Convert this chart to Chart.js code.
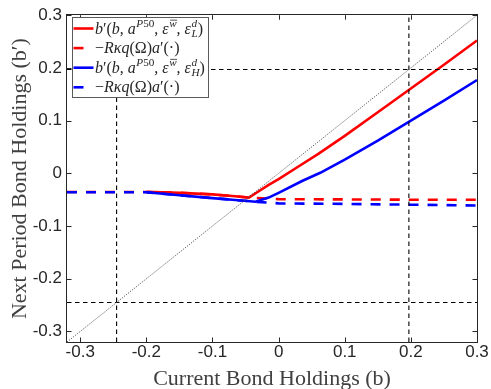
<!DOCTYPE html>
<html><head><meta charset="utf-8">
<script src="https://cdn.jsdelivr.net/npm/chart.js@4/dist/chart.umd.min.js"></script>
<style>html,body{margin:0;padding:0;background:#fff}#wrap{width:491px;height:389px}</style>
</head><body><div id="wrap"><canvas id="c" width="491" height="389"></canvas></div>
<script>
// ---------- data ----------
const tickValues = [-0.3, -0.2, -0.1, 0, 0.1, 0.2, 0.3];
const axisMin = -0.32, axisMax = 0.3;
const xTitle = "Current Bond Holdings (b)";
const yTitle = "Next Period Bond Holdings (b\u2032)";
const seriesLabels = [
  "b\u2032(b, a^{P50}, \u03b5^{w\u0304}, \u03b5^{d}_{L})",
  "\u2212R\u03baq(\u03a9)a\u2032(\u00b7)",
  "b\u2032(b, a^{P50}, \u03b5^{w\u0304}, \u03b5^{d}_{H})",
  "\u2212R\u03baq(\u03a9)a\u2032(\u00b7)"
];
// b' policy, low state (red solid)
const bL      = [-0.2, -0.15, -0.1, -0.07, -0.045, -0.03, -0.015, 0, 0.03, 0.06, 0.1, 0.15, 0.2, 0.25, 0.3];
const policyL = [-0.035, -0.037, -0.040, -0.043, -0.046, -0.034, -0.022, -0.011, 0.013, 0.037, 0.071, 0.116, 0.161, 0.206, 0.252];
// -R kappa q a' , low state (red dashed)
const bLd     = [-0.32, -0.2, -0.15, -0.1, -0.07, -0.045, 0, 0.1, 0.2, 0.3];
const boundL  = [-0.0355, -0.0355, -0.037, -0.040, -0.043, -0.046, -0.049, -0.0495, -0.050, -0.050];
// b' policy, high state (blue solid)
const bH      = [-0.2, -0.15, -0.1, -0.07, -0.035, -0.015, 0, 0.0355, 0.063, 0.1, 0.15, 0.2, 0.25, 0.3];
const policyH = [-0.036, -0.0415, -0.047, -0.050, -0.054, -0.046, -0.037, -0.0145, 0.001, 0.026, 0.062, 0.100, 0.138, 0.177];
// -R kappa q a' , high state (blue dashed)
const bHd     = [-0.32, -0.2, -0.15, -0.1, -0.07, -0.035, 0, 0.1, 0.2, 0.3];
const boundH  = [-0.036, -0.036, -0.0415, -0.047, -0.050, -0.054, -0.057, -0.058, -0.0595, -0.061];
// 45-degree line and its crossing points
const diagX = [-0.32, 0.3];
const crossLow = -0.245, crossHigh = 0.197;

// ---------- helpers ----------
const pts = (xs, ys) => xs.map((x, i) => ({x: x, y: ys[i]}));
const RED = '#ff0000', BLUE = '#0000ff';
const fmt = v => { const r = Math.round(v * 10) / 10; return r === 0 ? '0' : String(r); };
const DASH = [10, 9];
const REFDASH = [4.5, 3.5];

const line = (data, color, width, dash, order) => ({
  data, borderColor: color, backgroundColor: color, borderWidth: width,
  borderDash: dash || [], pointRadius: 0, pointHoverRadius: 0, showLine: true,
  tension: 0, fill: false, order: order, borderCapStyle: 'butt'
});

const datasets = [
  Object.assign(line(pts(diagX, diagX), '#505050', 0.9, [1.3, 1.3], 0), {label: '45'}),
  Object.assign(line(pts([crossLow, crossLow], [axisMin, axisMax]), '#000', 1.1, REFDASH, 0), {label: 'v1'}),
  Object.assign(line(pts([crossHigh, crossHigh], [axisMin, axisMax]), '#000', 1.1, REFDASH, 0), {label: 'v2'}),
  Object.assign(line(pts([axisMin, axisMax], [crossLow, crossLow]), '#000', 1.1, REFDASH, 0), {label: 'h1'}),
  Object.assign(line(pts([axisMin, axisMax], [crossHigh, crossHigh]), '#000', 1.1, REFDASH, 0), {label: 'h2'}),
  Object.assign(line(pts(bHd, boundH), BLUE, 2.6, DASH, 1), {label: seriesLabels[3]}),
  Object.assign(line(pts(bH, policyH), BLUE, 2.6, null, 2), {label: seriesLabels[2]}),
  Object.assign(line(pts(bLd, boundL), RED, 2.6, DASH, 3), {label: seriesLabels[1]}),
  Object.assign(line(pts(bL, policyL), RED, 2.6, null, 4), {label: seriesLabels[0]})
];

// ---------- rich text (simple LaTeX-like) ----------
function parseRich(s) {
  const items = [];
  let i = 0;
  const readGroup = () => {
    if (s[i] === '{') { const j = s.indexOf('}', i); const g = s.slice(i + 1, j); i = j + 1; return g; }
    return s[i++];
  };
  while (i < s.length) {
    const ch = s[i];
    if (ch === '^' || ch === '_') {
      i++;
      const g = readGroup();
      const last = items[items.length - 1];
      if (ch === '^') last.sup = g; else last.sub = g;
      continue;
    }
    const it = {t: ch};
    i++;
    if (s[i] === '\u0304') { it.t += '\u0304'; i++; }
    items.push(it);
  }
  return items;
}
const isItalic = c => /[A-Za-z\u03b1-\u03c9]/.test(c);
function drawChars(ctx, str, x, y, size) {
  let i = 0;
  while (i < str.length) {
    const c = str[i]; i++;
    let bar = false;
    if (str[i] === '\u0304') { bar = true; i++; }
    ctx.font = (isItalic(c) ? 'italic ' : '') + size + 'px "Liberation Serif"';
    ctx.fillText(c, x, y);
    const w = ctx.measureText(c).width;
    if (bar) {
      ctx.save(); ctx.lineWidth = 0.8; ctx.strokeStyle = ctx.fillStyle;
      ctx.beginPath(); ctx.moveTo(x + 1, y - size * 0.62); ctx.lineTo(x + w + 0.5, y - size * 0.62); ctx.stroke(); ctx.restore();
    }
    x += w;
  }
  return x;
}
function drawRich(ctx, str, x, y, size) {
  const items = parseRich(str);
  const ss = size * 0.7;
  for (const it of items) {
    x = drawChars(ctx, it.t, x, y, size);
    let w1 = 0, w2 = 0;
    if (it.sup) { w1 = drawChars(ctx, it.sup, x + 0.5, y - size * 0.4, ss) - x; }
    if (it.sub) { w2 = drawChars(ctx, it.sub, x + 0.5, y + size * 0.2, ss) - x; }
    x += Math.max(w1, w2);
  }
  return x;
}

// ---------- plugins ----------
const framePlugin = {
  id: 'frame',
  afterDatasetsDraw(chart) {
    const {ctx, chartArea: a, scales: {x, y}} = chart;
    ctx.save();
    ctx.strokeStyle = '#262626';
    ctx.lineWidth = 1;
    ctx.strokeRect(Math.round(a.left) - 0.5, Math.round(a.top) - 0.5, Math.round(a.right - a.left) + 1, Math.round(a.bottom - a.top) + 1);
    const tl = 4.5;
    ctx.beginPath();
    for (const v of tickValues) {
      const px = Math.round(x.getPixelForValue(v)) + 0.5;
      ctx.moveTo(px, a.bottom); ctx.lineTo(px, a.bottom - tl);
      ctx.moveTo(px, a.top); ctx.lineTo(px, a.top + tl);
      const py = Math.round(y.getPixelForValue(v)) + 0.5;
      ctx.moveTo(a.left, py); ctx.lineTo(a.left + tl, py);
      ctx.moveTo(a.right, py); ctx.lineTo(a.right - tl, py);
    }
    ctx.stroke();
    ctx.restore();
  }
};

const legendPlugin = {
  id: 'richLegend',
  afterDraw(chart) {
    const ctx = chart.ctx;
    const bx = 72, by = 17, bw = 136, bh = 80;
    ctx.save();
    ctx.fillStyle = '#fff';
    ctx.fillRect(bx, by, bw, bh);
    ctx.strokeStyle = '#5a5a5a';
    ctx.lineWidth = 1;
    ctx.strokeRect(bx + 0.5, by + 0.5, bw, bh);
    const entries = [
      {label: seriesLabels[0], color: RED, dash: false},
      {label: seriesLabels[1], color: RED, dash: true},
      {label: seriesLabels[2], color: BLUE, dash: false},
      {label: seriesLabels[3], color: BLUE, dash: true}
    ];
    entries.forEach((e, k) => {
      const cy = 28.5 + k * 19.6;
      ctx.strokeStyle = e.color;
      ctx.lineWidth = 2.6;
      ctx.beginPath();
      ctx.moveTo(73.5, cy);
      ctx.lineTo(e.dash ? 83.5 : 93.5, cy);
      ctx.stroke();
      ctx.fillStyle = '#262626';
      ctx.textBaseline = 'alphabetic';
      drawRich(ctx, e.label, 95, cy + 5, 16);
    });
    ctx.restore();
  }
};

// ---------- chart ----------
const tickFont = {family: '"Liberation Sans", Arial, sans-serif', size: 17};
const titleFont = {family: '"Liberation Serif", serif', size: 22, lineHeight: 1};
new Chart(document.getElementById('c'), {
  type: 'scatter',
  data: {datasets},
  options: {
    responsive: false,
    animation: false,
    devicePixelRatio: 1,
    events: [],
    layout: {padding: {left: 0, right: 14, top: 13, bottom: 0}},
    plugins: {legend: {display: false}, tooltip: {enabled: false}},
    scales: {
      x: {
        type: 'linear', min: axisMin, max: axisMax,
        afterBuildTicks: s => { s.ticks = tickValues.map(v => ({value: v})); },
        afterFit: s => { s.height = 47; },
        ticks: {callback: fmt, font: tickFont, color: '#262626', padding: 0, maxRotation: 0, autoSkip: false},
        grid: {display: false, drawTicks: false},
        border: {display: false},
        title: {display: true, text: xTitle, font: titleFont, color: '#404040', padding: {top: 0, bottom: -1}}
      },
      y: {
        type: 'linear', min: axisMin, max: axisMax,
        afterBuildTicks: s => { s.ticks = tickValues.map(v => ({value: v})); },
        afterFit: s => { s.width = 67; },
        ticks: {callback: fmt, font: tickFont, color: '#262626', padding: 5, autoSkip: false},
        grid: {display: false, drawTicks: false},
        border: {display: false},
        title: {display: true, text: yTitle, font: titleFont, color: '#404040', padding: {top: 9, bottom: 0}}
      }
    }
  },
  plugins: [framePlugin, legendPlugin]
});
</script>
</body></html>
